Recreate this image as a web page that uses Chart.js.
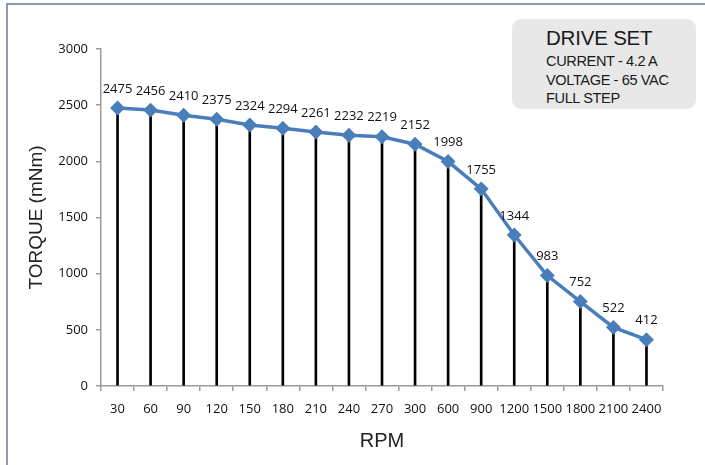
<!DOCTYPE html>
<html>
<head>
<meta charset="utf-8">
<script src="https://cdn.jsdelivr.net/npm/chart.js@4.4.1/dist/chart.umd.min.js"></script>
<style>
  html, body { margin: 0; padding: 0; background: #fff; }
  #wrap { position: relative; width: 705px; height: 465px; overflow: hidden; }
  #frame {
    position: absolute; left: 6px; top: 3px; width: 720px; height: 480px;
    border-top: 2px solid #8e98b6; border-left: 2px solid #8e98b6;
  }
  #chart { position: absolute; left: 0; top: 0; }
  #drive {
    position: absolute; left: 512px; top: 19px; width: 184px; height: 90px;
    background: #e8e8e8; border-radius: 9px;
    font-family: "Liberation Sans", Arial, sans-serif; color: #1a1a1a;
  }
  #drive .t { position: absolute; left: 34px; top: 7px; font-size: 20.5px; letter-spacing: -0.2px; }
  #drive .l { position: absolute; left: 34px; font-size: 14.6px; letter-spacing: -0.4px; }
</style>
</head>
<body>
<div id="wrap">
  <div id="frame"></div>
  <canvas id="chart" width="705" height="465"></canvas>
  <div id="drive">
    <div class="t">DRIVE SET</div>
    <div class="l" style="top:34px">CURRENT - 4.2 A</div>
    <div class="l" style="top:53px">VOLTAGE - 65 VAC</div>
    <div class="l" style="top:71px">FULL STEP</div>
  </div>
</div>
<script>
// torque curve
const rpmLabels = ['30', '60', '90', '120', '150', '180', '210', '240', '270', '300',
                   '600', '900', '1200', '1500', '1800', '2100', '2400'];
const torqueValues = [2475, 2456, 2410, 2375, 2324, 2294, 2261, 2232, 2219, 2152,
                      1998, 1755, 1344, 983, 752, 522, 412];
const yTicks = [0, 500, 1000, 1500, 2000, 2500, 3000];

const lineClr  = '#4a7ebb';
const axisClr  = '#9a9a9a';
const tickFont = { family: 'Open Sans', size: 13 };

// value labels above each point
const pointLabels = {
  id: 'pointLabels',
  afterDatasetsDraw(chart) {
    const meta = chart.getDatasetMeta(0);
    const ctx = chart.ctx;
    ctx.save();
    ctx.font = '13px "Open Sans"';
    ctx.fillStyle = '#111';
    ctx.textAlign = 'center';
    ctx.textBaseline = 'middle';
    meta.data.forEach((pt, i) => {
      ctx.fillText(String(torqueValues[i]), pt.x, pt.y - 19);
    });
    ctx.restore();
  }
};

new Chart(document.getElementById('chart'), {
  data: {
    labels: rpmLabels,
    datasets: [
      {
        type: 'line',
        label: 'Torque',
        data: torqueValues,
        borderColor: lineClr,
        backgroundColor: lineClr,
        borderWidth: 3.5,
        pointStyle: 'rectRot',
        pointRadius: 5,
        pointBackgroundColor: lineClr,
        pointBorderColor: lineClr,
        tension: 0,
        order: 0,
      },
      {
        type: 'bar',
        label: 'drop',
        data: torqueValues,
        backgroundColor: '#000',
        barThickness: 2,
        order: 1,
      },
    ],
  },
  options: {
    responsive: false,
    animation: false,
    events: [],
    layout: { padding: { left: 0, right: 42, top: 49, bottom: 0 } },
    plugins: { legend: { display: false }, tooltip: { enabled: false } },
    scales: {
      x: {
        offset: true,
        grid: { offset: true, drawOnChartArea: false, drawTicks: true, tickLength: 5, color: axisClr, lineWidth: 1.5 },
        border: { color: axisClr, width: 1.5 },
        ticks: { color: '#111', font: tickFont, padding: 10, maxRotation: 0, autoSkip: false },
        title: {
          display: true, text: 'RPM', color: '#222',
          font: { family: 'Liberation Sans', size: 20 },
          padding: { top: 0, bottom: 12 },
        },
        afterFit: s => { s.height = 79; },
      },
      y: {
        min: 0, max: 3000,
        afterBuildTicks: s => { s.ticks = yTicks.map(v => ({ value: v })); },
        grid: { drawOnChartArea: false, drawTicks: true, tickLength: 5, color: axisClr, lineWidth: 1.5 },
        border: { color: axisClr, width: 1.5 },
        ticks: { color: '#111', font: tickFont, padding: 8, callback: v => String(v) },
        title: {
          display: true, text: 'TORQUE (mNm)', color: '#222',
          font: { family: 'Liberation Sans', size: 19 },
          padding: { top: 25, bottom: 0 },
        },
        afterFit: s => { s.width = 101; },
      },
    },
  },
  plugins: [pointLabels],
});
</script>
</body>
</html>
